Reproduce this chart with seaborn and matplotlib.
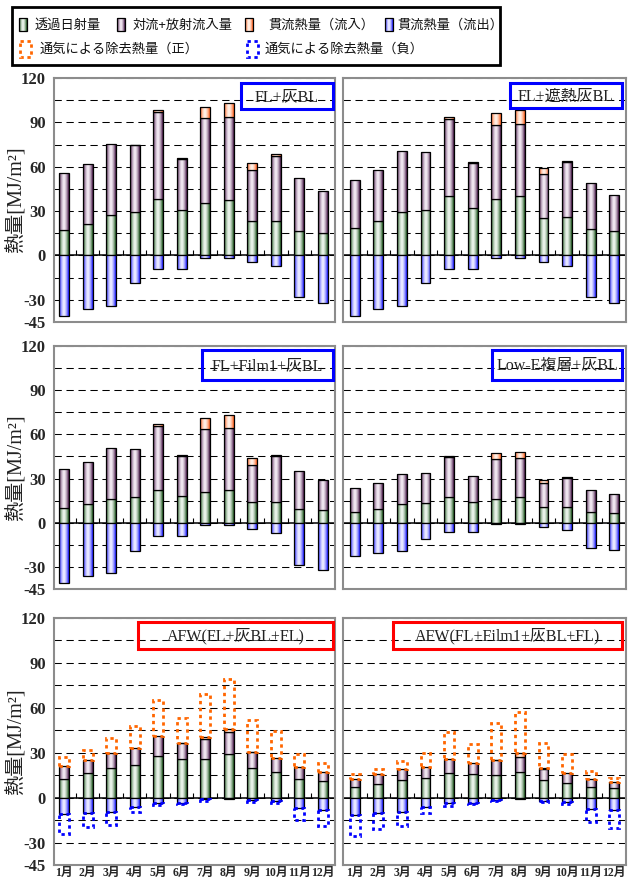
import numpy as np
import matplotlib
matplotlib.use("Agg")
import matplotlib.pyplot as plt
import seaborn as sns
from matplotlib.patches import Rectangle
from matplotlib.colors import to_rgb

sns.set_theme(style="white")
plt.rcParams['font.family'] = ['Liberation Serif', 'Noto Sans CJK JP', 'DejaVu Sans']

# ---------------- data ----------------
months = ['1月', '2月', '3月', '4月', '5月', '6月', '7月', '8月', '9月', '10月', '11月', '12月']
ytick_vals = [120, 90, 60, 30, 0, -30, -45]
ytick_labels = ['120', '90', '60', '30', '0', '-30', '-45']

titles = ['FL+灰BL', 'FL+遮熱灰BL', 'FL+Film1+灰BL', 'Low-E複層+灰BL',
          'AFW(FL+灰BL+FL)', 'AFW(FL+Film1+灰BL+FL)']
title_colors = ['#0000ff', '#0000ff', '#0000ff', '#0000ff', '#ff0000', '#ff0000']

legend_labels = ['透過日射量', '対流+放射流入量', '貫流熱量（流入）', '貫流熱量（流出）',
                 '通気による除去熱量（正）', '通気による除去熱量（負）']

# panel 1: FL+灰BL
solar1 = [16.9, 21.2, 27.5, 29.3, 38.3, 31.0, 35.6, 37.8, 23.6, 23.6, 16.2, 15.1]
conv1 = [38.9, 40.9, 48.1, 45.4, 58.7, 34.5, 57.1, 55.6, 34.4, 43.7, 36.0, 28.8]
in1 = [0, 0, 0, 0.3, 1.1, 0.7, 7.9, 9.4, 4.3, 1.1, 0, 0]
out1 = [-40.7, -36.2, -34.0, -18.7, -9.0, -9.0, -1.8, -1.8, -4.5, -7.0, -28.1, -32.2]

# panel 2: FL+遮熱灰BL
solar2 = [18.9, 23.0, 29.7, 31.0, 40.5, 32.0, 38.3, 40.0, 25.2, 25.9, 18.0, 16.2]
conv2 = [32.4, 35.0, 41.2, 39.2, 51.5, 30.8, 49.7, 49.1, 29.9, 37.6, 30.8, 25.0]
in2 = [0, 0, 0, 0, 1.4, 0.4, 8.1, 9.2, 4.3, 0.2, 0, 0]
out2 = [-40.7, -36.2, -34.0, -18.7, -9.0, -9.0, -1.8, -1.8, -4.5, -7.0, -28.1, -32.2]

# panel 3: FL+Film1+灰BL
solar3 = [9.9, 12.4, 16.2, 17.4, 22.3, 18.3, 21.2, 22.3, 14.0, 14.0, 9.5, 8.8]
conv3 = [26.6, 28.7, 34.6, 32.9, 43.1, 27.0, 42.4, 42.0, 25.5, 31.6, 25.5, 20.3]
in3 = [0, 0, 0, 0, 1.4, 0.5, 7.7, 8.6, 4.5, 0.2, 0, 0]
out3 = [-40.8, -36.5, -33.8, -18.9, -9.2, -9.2, -1.8, -1.8, -4.5, -6.8, -28.4, -32.3]

# panel 4: Low-E複層+灰BL
solar4 = [7.4, 9.5, 12.4, 13.3, 17.4, 14.0, 16.2, 17.4, 10.6, 10.6, 7.2, 6.8]
conv4 = [16.3, 17.6, 21.0, 20.5, 27.3, 17.6, 27.3, 26.8, 16.2, 19.9, 15.1, 12.4]
in4 = [0, 0, 0, 0, 0.4, 0, 3.9, 3.8, 2.3, 0.4, 0, 0]
out4 = [-22.8, -20.3, -19.4, -11.3, -6.1, -6.1, -1.1, -1.1, -2.9, -4.7, -16.9, -18.3]

# panel 5: AFW(FL+灰BL+FL)
solar5 = [12.7, 16.2, 20.0, 21.8, 27.8, 25.6, 25.6, 29.1, 20.0, 16.9, 12.7, 11.1]
conv5 = [8.6, 8.7, 10.0, 11.5, 13.5, 10.6, 13.3, 14.9, 10.4, 9.5, 7.7, 6.0]
in5 = [0, 0, 0, 0, 0, 0.3, 1.3, 1.6, 0.3, 0, 0, 0]
out5 = [-11.1, -10.0, -9.6, -6.2, -3.3, -3.3, -1.1, -0.7, -1.6, -2.2, -7.1, -8.0]
ventp5 = [6.0, 7.1, 10.0, 14.7, 23.8, 16.4, 29.1, 33.7, 21.3, 17.8, 8.9, 5.8]
ventn5 = [-13.3, -9.8, -8.8, -3.4, -1.6, -0.9, -1.1, 0, -1.3, -1.6, -7.8, -10.9]

# panel 6: AFW(FL+Film1+灰BL+FL)
solar6 = [7.3, 9.3, 12.0, 13.1, 16.7, 15.6, 15.1, 17.1, 12.0, 10.0, 7.3, 6.2]
conv6 = [5.1, 6.3, 7.1, 7.6, 9.1, 7.3, 9.8, 10.2, 7.1, 6.7, 5.1, 4.2]
in6 = [0, 0, 0, 0, 0, 0, 0.4, 2.3, 0.9, 0, 0, 0]
out6 = [-11.6, -10.0, -9.3, -6.4, -3.6, -3.3, -1.6, -0.9, -2.0, -2.7, -7.6, -8.2]
ventp6 = [3.4, 3.3, 5.1, 9.3, 17.8, 13.1, 24.3, 27.3, 16.7, 12.4, 5.6, 2.9]
ventn6 = [-13.7, -10.9, -9.6, -3.6, -2.0, -0.9, -0.6, 0, -1.1, -1.5, -8.6, -12.2]

panels = [
    (solar1, conv1, in1, out1, None, None),
    (solar2, conv2, in2, out2, None, None),
    (solar3, conv3, in3, out3, None, None),
    (solar4, conv4, in4, out4, None, None),
    (solar5, conv5, in5, out5, ventp5, ventn5),
    (solar6, conv6, in6, out6, ventp6, ventn6),
]

# ---------------- style ----------------
GRAD = {
    'solar': ('#165016', '#eef6ee'),
    'conv': ('#3f0f40', '#f5ecf5'),
    'in': ('#ff5a14', '#fff3ea'),
    'out': ('#0f0fff', '#eeeeff'),
}
VENT_POS = '#ff6600'
VENT_NEG = '#0000ff'

W, H = 635, 880
fig = plt.figure(figsize=(W / 100, H / 100), dpi=100)


def px_axes(x0, top, w, h):
    return fig.add_axes([x0 / W, 1 - (top + h) / H, w / W, h / H])


def grad_image(dark, light, n=64):
    t = np.linspace(0, 1, n)
    m = np.abs(2 * t - 1) ** 1.6
    d = np.array(to_rgb(dark))
    l = np.array(to_rgb(light))
    return (l[None, :] * (1 - m[:, None]) + d[None, :] * m[:, None])[None, :, :]


def gradient_fill(ax, patches, key, z):
    img = grad_image(*GRAD[key])
    for p in patches:
        h = p.get_height()
        if abs(h) < 1e-6:
            p.set_visible(False)
            continue
        x0, w, y0 = p.get_x(), p.get_width(), p.get_y()
        im = ax.imshow(img, extent=[x0, x0 + w, min(y0, y0 + h), max(y0, y0 + h)],
                       aspect='auto', interpolation='bilinear', origin='lower', zorder=z)
        im.set_clip_path(p)
        p.set_facecolor('none')
        p.set_zorder(z + 0.1)


col_x = [(54, 281), (343, 283)]
rows = [(78, 244), (346, 243), (618, 247)]
xlims = [(-0.43, 11.52), (-0.5, 11.5)]
box_pos = [
    (0.665, 0.993, 0.873, 0.98),
    (0.590, 0.986, 0.877, 0.98),
    (0.527, 0.993, 0.860, 0.984),
    (0.527, 0.986, 0.860, 0.984),
    (0.299, 0.993, 0.874, 0.984),
    (0.177, 0.986, 0.874, 0.984),
]

for i, (solar, conv, cin, cout, vp, vn) in enumerate(panels):
    r, c = divmod(i, 2)
    ax = px_axes(col_x[c][0], rows[r][0], col_x[c][1], rows[r][1])
    sol = np.array(solar, float)
    cv = np.array(conv, float)
    ci = np.array(cin, float)
    co = np.array(cout, float)
    kw = dict(ax=ax, width=0.42, edgecolor='black', linewidth=0.9, errorbar=None)

    sns.barplot(x=months, y=sol, color=GRAD['solar'][1], **kw)
    gradient_fill(ax, ax.containers[-1], 'solar', 2)
    sns.barplot(x=months, y=cv, bottom=sol, color=GRAD['conv'][1], **kw)
    gradient_fill(ax, ax.containers[-1], 'conv', 2.2)
    sns.barplot(x=months, y=ci, bottom=sol + cv, color=GRAD['in'][1], **kw)
    gradient_fill(ax, ax.containers[-1], 'in', 2.4)
    sns.barplot(x=months, y=co, color=GRAD['out'][1], **kw)
    gradient_fill(ax, ax.containers[-1], 'out', 2.6)

    if vp is not None:
        top = sol + cv + ci
        sns.barplot(x=months, y=np.array(vp, float), bottom=top, ax=ax, width=0.42,
                    fill=False, color=VENT_POS, linewidth=2.0,
                    linestyle=(0, (1.2, 1.3)), errorbar=None)
        for p in ax.containers[-1]:
            p.set_edgecolor(VENT_POS)
            p.set_zorder(4)
            if abs(p.get_height()) < 1e-6:
                p.set_visible(False)
        sns.barplot(x=months, y=np.array(vn, float), bottom=co, ax=ax, width=0.42,
                    fill=False, color=VENT_NEG, linewidth=2.0,
                    linestyle=(0, (1.2, 1.3)), errorbar=None)
        for p in ax.containers[-1]:
            p.set_edgecolor(VENT_NEG)
            p.set_zorder(4)
            if abs(p.get_height()) < 1e-6:
                p.set_visible(False)

    ax.axhline(0, color='black', linewidth=1.1, zorder=1.5)
    ax.plot(np.arange(11) + 0.5, np.zeros(11), linestyle='none', marker=2,
            markersize=3.5, markeredgewidth=0.8, color='black', zorder=1.6)

    ax.set_ylim(-45, 120)
    ax.set_xlim(*xlims[c])
    ax.set_yticks(ytick_vals)
    ax.set_yticks([105, 75, 45, 15, -15], minor=True)
    ax.yaxis.grid(True, which='both', color='black', linestyle=(0, (7, 4.5)), linewidth=0.75)
    ax.xaxis.grid(False)
    ax.set_axisbelow(True)
    ax.set_xlabel('')
    ax.set_ylabel('')
    for s in ax.spines.values():
        s.set_color('#8c8c8c')
        s.set_linewidth(1.5)
        s.set_visible(True)
    ax.tick_params(axis='y', which='both', length=0, pad=6, labelleft=(c == 0))
    if c == 0:
        ax.set_yticklabels(ytick_labels, fontsize=12, fontweight='bold',
                           family=['Liberation Serif'])
    ax.set_xticks(range(12))
    if r == 2:
        ax.set_xticklabels(months, fontsize=8.5, fontweight='bold')
        ax.tick_params(axis='x', length=0, pad=1.5)
    else:
        ax.tick_params(axis='x', length=0, labelbottom=False)

    x0, x1, y0, y1 = box_pos[i]
    ax.add_patch(Rectangle((x0, y0), x1 - x0, y1 - y0, transform=ax.transAxes,
                           fill=False, edgecolor=title_colors[i], linewidth=2.2,
                           zorder=6, clip_on=False))
    ax.text((x0 + x1) / 2, (y0 + y1) / 2 - 0.004, titles[i], transform=ax.transAxes,
            ha='center', va='center', fontsize=11.5, color='#222222', zorder=6)

# y labels
for top, h in rows:
    fig.text(16 / W, 1 - (top + h / 2) / H, '熱量[MJ/m²]', rotation=90,
             ha='center', va='center', fontsize=14.5, color='#222222')

# ---------------- legend (drawn in pixel overlay) ----------------
lax = fig.add_axes([0, 0, 1, 1], zorder=10)
lax.axis('off')
lax.add_patch(Rectangle((12, 7), 488, 58, fill=False, edgecolor='black', linewidth=2.0))
leg_items = [('solar', 19, 35), ('conv', 117, 133), ('in', 245, 268), ('out', 385, 397)]
for k, (key, px, tx) in enumerate(leg_items):
    p = Rectangle((px, 18), 8, 13, edgecolor='black', linewidth=0.9, facecolor='none')
    lax.add_patch(p)
    gradient_fill(lax, [p], key, 10)
    lax.text(tx, 25.5, legend_labels[k], ha='left', va='center', fontsize=9.5,
             family=['Noto Sans CJK JP'], color='#111111')
lax.add_patch(Rectangle((20, 41), 11, 16, fill=False, edgecolor=VENT_POS, linewidth=2.0,
                        linestyle=(0, (1.2, 1.3))))
lax.text(40, 49.5, legend_labels[4], ha='left', va='center', fontsize=9.5,
         family=['Noto Sans CJK JP'], color='#111111')
lax.add_patch(Rectangle((247, 41), 11, 16, fill=False, edgecolor=VENT_NEG, linewidth=2.0,
                        linestyle=(0, (1.2, 1.3))))
lax.text(265, 49.5, legend_labels[5], ha='left', va='center', fontsize=9.5,
         family=['Noto Sans CJK JP'], color='#111111')
lax.set_xlim(0, W)
lax.set_ylim(H, 0)

fig.savefig('out.png', dpi=100)
